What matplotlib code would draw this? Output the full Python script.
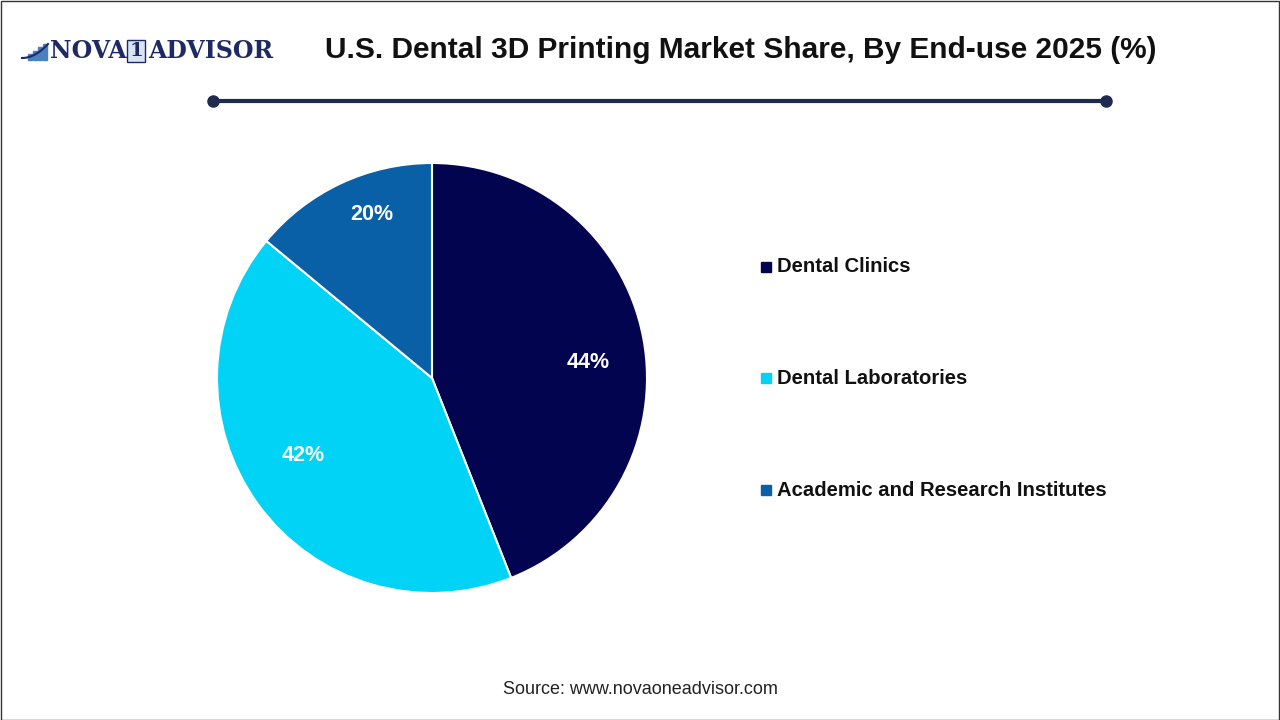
import numpy as np
import matplotlib.pyplot as plt
from matplotlib.patches import Rectangle

# data
segments = ["Dental Clinics", "Dental Laboratories", "Academic and Research Institutes"]
shares = [44, 42, 14]               # slice sizes as drawn
share_labels = ["44%", "42%", "20%"]  # labels as printed on the chart
colors = ["#03044F", "#00D3F5", "#0A60A6"]

W, H = 1280, 720
fig = plt.figure(figsize=(12.8, 7.2), dpi=100)
fig.patch.set_facecolor("white")

# outer frame
fig.add_artist(Rectangle((0.5 / W, 0.5 / H), 1 - 1.5 / W, 1 - 1.5 / H, transform=fig.transFigure,
                         fill=False, edgecolor="#333333", lw=1))

# pie
cx, cy, r = 432, 378, 215
ax = fig.add_axes([(cx - r) / W, (H - cy - r) / H, 2 * r / W, 2 * r / H])
wedges, _ = ax.pie(shares, colors=colors, startangle=90, counterclock=False,
                   wedgeprops=dict(edgecolor="white", linewidth=1.5))
ax.set_xlim(-1, 1)
ax.set_ylim(-1, 1)
ax.set_aspect("equal")
ax.axis("off")

dists = [0.73, 0.70, 0.81]
for w, lab, d in zip(wedges, share_labels, dists):
    ang = np.deg2rad((w.theta1 + w.theta2) / 2 - 5)
    ax.text(d * np.cos(ang), d * np.sin(ang), lab, ha="center", va="center",
            color="white", fontsize=15.5, fontweight="bold", family="Liberation Sans")

# legend
leg_y = [267, 378, 490]
for name, c, y in zip(segments, colors, leg_y):
    fig.add_artist(Rectangle((761 / W, (H - y - 5) / H), 10 / W, 10 / H,
                             transform=fig.transFigure, color=c))
    fig.text(777 / W, (H - y) / H, name, ha="left", va="center", fontsize=14.6,
             fontweight="bold", color="#111111", family="Liberation Sans")

# title
fig.text(741 / W, (H - 50) / H, "U.S. Dental 3D Printing Market Share, By End-use 2025 (%)",
         ha="center", va="center", fontsize=21.5, fontweight="bold", color="#111111",
         family="Liberation Sans")

# separator line with end dots
line_c = "#1F2A50"
fig.add_artist(plt.Line2D([213 / W, 1106 / W], [(H - 101) / H] * 2, transform=fig.transFigure,
                          color=line_c, lw=3))
for x in (213, 1106):
    fig.add_artist(plt.Line2D([x / W], [(H - 101) / H], transform=fig.transFigure,
                              marker="o", markersize=8, color=line_c))

# logo
logo_c = "#1E2B63"
bars = [(28, 6), (33, 9), (38, 13), (43, 16)]
for bx, bh in bars:
    fig.add_artist(Rectangle((bx / W, (H - 60) / H), 4 / W, bh / H, transform=fig.transFigure,
                             color="#4A7FC0"))
t = np.linspace(0, 1, 30)
fig.add_artist(plt.Line2D((22 + 26 * t) / W, (H - 58 + 14 * t ** 2) / H, transform=fig.transFigure,
                          color=logo_c, lw=1.5))
fig.text(50 / W, (H - 51) / H, "NOVA", ha="left", va="center", fontsize=17, fontweight="bold",
         color=logo_c, family="DejaVu Serif")
fig.text(136 / W, (H - 51) / H, "1", ha="center", va="center", fontsize=14, fontweight="bold",
         color=logo_c, family="DejaVu Serif",
         bbox=dict(boxstyle="square,pad=0.12", fc="#D8E4F2", ec=logo_c, lw=1))
fig.text(148 / W, (H - 51) / H, "ADVISOR", ha="left", va="center", fontsize=17, fontweight="bold",
         color=logo_c, family="DejaVu Serif")

# source
fig.text(640 / W, (H - 689) / H, "Source: www.novaoneadvisor.com", ha="center", va="center",
         fontsize=13, color="#222222", family="Liberation Sans")

fig.savefig("out.png", dpi=100, facecolor="white")
